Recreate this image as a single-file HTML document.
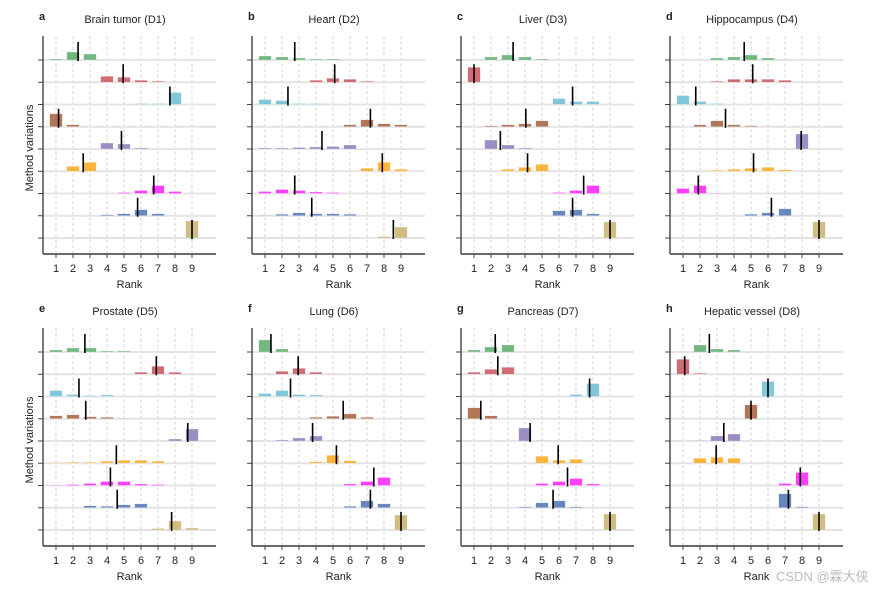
<!DOCTYPE html>
<html><head><meta charset="utf-8"><style>
html,body{margin:0;padding:0;background:#fff;}
svg text{font-family:"Liberation Sans",Arial,sans-serif;fill:#222;}
</style></head><body>
<svg id="s" width="890" height="590" xmlns="http://www.w3.org/2000/svg"></svg>
<script>
const cols=["#5aab6a","#c8525c","#6cbdd3","#a45f3c","#8b79b9","#fca81c","#ff1dff","#4e72b1","#c8b26e"];
const P=[
["a","Brain tumor (D1)",0,0,[
"1:1,2:8,3:6|2.3","4:6,5:5,6:2,7:1|4.95","6:1,7:1,8:12|7.7","1:13,2:2|1.15","4:6,5:5,6:1|4.85","2:5,3:9|2.6","5:1,6:3,7:8,8:2|6.75","4:1,5:2,6:6,7:2|5.8","9:17|9"]],
["b","Heart (D2)",209,0,[
"1:4,2:3,3:2,4:1,5:1|2.75","3:0.5,4:2,5:4,6:3,7:1|5.1","1:5,2:4,3:1,4:1|2.35","6:2,7:7,8:3,9:2|7.2","1:1,2:1,3:1.5,4:2,5:2.5,6:4|4.35","7:3,8:9,9:2|7.9","1:2,2:4,3:3,4:1.5,5:1|2.75","1:0.5,2:1.5,3:3,4:2,5:2,6:1.5|3.75","7:0.5,8:1.5,9:11|8.55"]],
["c","Liver (D3)",418,0,[
"2:3,3:5,4:3,5:1|3.3","1:15|1.0","6:6,7:3,8:3|6.8","2:1,3:2,4:3,5:6|4.05","2:9,3:4,4:1|2.55","3:2,4:4,5:7|4.15","6:1,7:3,8:8|7.45","6:5,7:6,8:2|6.8","9:16|9"]],
["d","Hippocampus (D4)",627,0,[
"3:2,4:3,5:5,6:2,7:0.5|4.6","3:1,4:3,5:3,6:3,7:2|5.1","1:9,2:3,3:1|1.75","2:2,3:6,4:2,5:1,6:0.5|3.5","8:15|7.95","3:1,4:2,5:3,6:4,7:1.5|5.15","1:5,2:8,3:0.5|1.9","5:1.5,6:3,7:7|6.2","9:16|9"]],
["e","Prostate (D5)",0,292,[
"1:2,2:4,3:4,4:1,5:1|2.7","6:2,7:8,8:2|6.9","1:6,2:2,3:1,4:1.5|2.35","1:3,2:4,3:2,4:1.5,5:0.5|2.75","8:2,9:12|8.75","1:0.5,2:1,3:1,4:2,5:3,6:3,7:2|4.55","1:0.5,2:1,3:2,4:4,5:4,6:1.5,7:1|4.2","3:2,4:1.5,5:3,6:4|4.6","7:1.5,8:9,9:2|7.8"]],
["f","Lung (D6)",209,292,[
"1:12,2:3|1.35","1:0.5,2:3,3:6,4:2,5:0.5|2.95","1:3,2:6,3:2,4:1.5|2.5","4:1.5,5:2.5,6:5,7:1.5|5.6","2:1,3:3,4:5,5:0.5,6:0.5|3.8","4:1.5,5:8,6:2.5|5.2","6:1.5,7:4,8:8|7.4","6:1.5,7:7,8:4|7.2","9:15|9"]],
["g","Pancreas (D7)",418,292,[
"1:2,2:5,3:7|2.25","1:2,2:5,3:7|2.4","7:2,8:13|7.8","1:11,2:3|1.4","4:13,5:0.5|4.3","5:7,6:3,7:4|5.95","5:2,6:4,7:7,8:1.5|6.5","4:1,5:5,6:7,7:1|5.65","9:16|9"]],
["h","Hepatic vessel (D8)",627,292,[
"2:7,3:3,4:2|2.55","1:15,2:1|1.1","6:15|6.0","5:14|5.0","2:0.5,3:5,4:7|3.4","2:5,3:6,4:5|2.95","7:2,8:13|7.9","7:14,8:1|7.2","9:16|9"]]
];
let h="";
for(const [L,T,dx,dy,rows] of P){
  const ax=43+dx, top=36+dy, bot=254+dy, right=216+dx;
  const X=r=>56+dx+(r-1)*17, Y=i=>60+dy+i*22.25;
  for(let r=1;r<=9;r++) h+=`<line x1="${X(r)}" y1="${top}" x2="${X(r)}" y2="${bot}" stroke="#c8c8c8" stroke-width="0.8" stroke-dasharray="3,2.5"/>`;
  rows.forEach((s,i)=>{
    const y=Y(i);
    h+=`<line x1="${ax}" y1="${y}" x2="${right}" y2="${y}" stroke="#e4e4e4" stroke-width="2"/>`;
    h+=`<line x1="${ax-5}" y1="${y}" x2="${ax}" y2="${y}" stroke="#444" stroke-width="1"/>`;
    const [b,m]=s.split("|");
    b.split(",").forEach(p=>{const [r,v]=p.split(":").map(Number);
      h+=`<rect x="${X(r)-6.3}" y="${y-v}" width="12.6" height="${v}" fill="${cols[i]}" fill-opacity="0.85" stroke="#fff" stroke-opacity="0.5" stroke-width="0.6"/>`;});
    const mx=X(+m);
    h+=`<line x1="${mx}" y1="${y+1}" x2="${mx}" y2="${y-18}" stroke="#000" stroke-width="1.6"/>`;
  });
  h+=`<line x1="${ax}" y1="${top}" x2="${ax}" y2="${bot}" stroke="#333" stroke-width="1.3"/>`;
  h+=`<line x1="${ax}" y1="${bot}" x2="${right}" y2="${bot}" stroke="#555" stroke-width="1.8"/>`;
  for(let r=1;r<=9;r++){h+=`<line x1="${X(r)}" y1="${bot}" x2="${X(r)}" y2="${bot+4}" stroke="#444"/>`;
    h+=`<text x="${X(r)}" y="${bot+18}" font-size="11" text-anchor="middle">${r}</text>`;}
  h+=`<text x="${(ax+right)/2}" y="${bot+34}" font-size="11" text-anchor="middle">Rank</text>`;
  h+=`<text x="${ax+82}" y="${dy+23}" font-size="11" text-anchor="middle">${T}</text>`;
  h+=`<text x="${ax-4}" y="${dy+20}" font-size="11" font-weight="bold">${L}</text>`;
  if(dx===0) h+=`<text transform="translate(33,${148+dy}) rotate(-90)" font-size="11" text-anchor="middle">Method variations</text>`;
}
h+=`<text x="776" y="581" font-size="13" fill="#b8b8b8" style="fill:#bbb">CSDN @霖大侠</text>`;
document.getElementById("s").innerHTML=h;
</script>
</body></html>
